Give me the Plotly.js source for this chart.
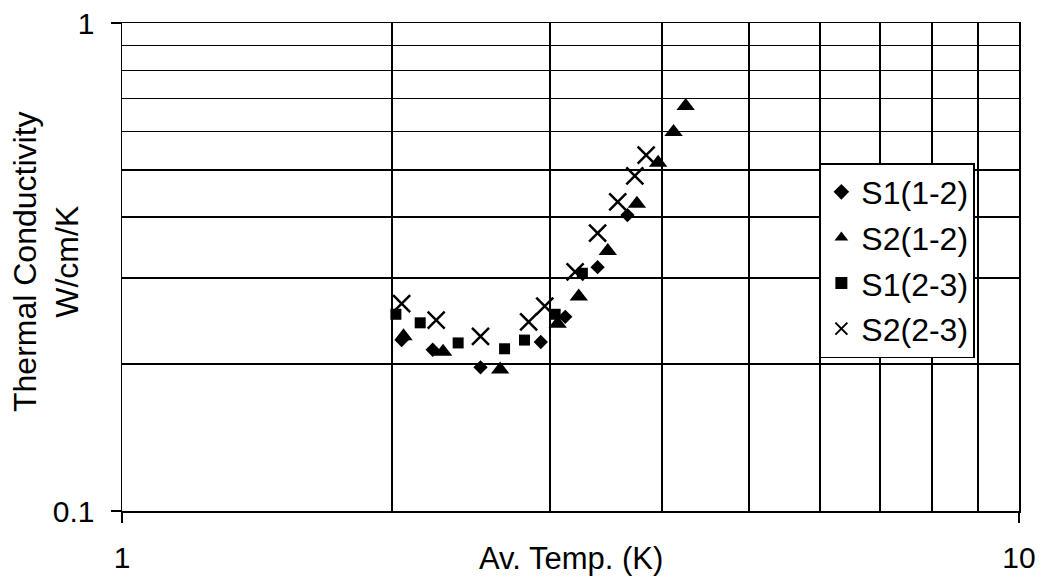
<!DOCTYPE html>
<html>
<head>
<meta charset="utf-8">
<script src="https://cdn.plot.ly/plotly-3.0.1.min.js"></script>
<style>
  html, body { margin: 0; padding: 0; background: #fff; }
  #chart { width: 1043px; height: 583px; }
</style>
</head>
<body>
<div id="chart"></div>
<script>
// Average temperature (K) and thermal conductivity (W/cm/K) per sample pair
const s1_12_temp = [2.05, 2.22, 2.51, 2.93, 3.12, 3.39, 3.66];
const s1_12_cond = [0.224, 0.214, 0.197, 0.222, 0.250, 0.316, 0.404];

const s2_12_temp = [2.06, 2.28, 2.64, 3.06, 3.23, 3.48, 3.75, 3.96, 4.12, 4.25];
const s2_12_cond = [0.228, 0.212, 0.195, 0.242, 0.275, 0.341, 0.426, 0.517, 0.598, 0.676];

const s1_23_temp = [2.02, 2.15, 2.37, 2.67, 2.81, 3.04, 3.26];
const s1_23_cond = [0.253, 0.243, 0.221, 0.215, 0.224, 0.253, 0.307];

const s2_23_temp = [2.05, 2.24, 2.51, 2.84, 2.96, 3.20, 3.39, 3.57, 3.73, 3.84];
const s2_23_cond = [0.266, 0.246, 0.228, 0.244, 0.263, 0.309, 0.371, 0.430, 0.486, 0.536];

const seriesNames = ['S1(1-2)', 'S2(1-2)', 'S1(2-3)', 'S2(2-3)'];
const xTickVals = [1, 10];
const xTickText = ['1', '10'];
const yTickVals = [0.1, 1];
const yTickText = ['0.1', '1'];
const minorX = [2, 3, 4, 5, 6, 7, 8, 9];
const minorY = [0.2, 0.3, 0.4, 0.5, 0.6, 0.7, 0.8, 0.9];

const FONT = 'Liberation Sans, Arial, Helvetica, sans-serif';

function series(x, y, name, symbol, size, group) {
  return {
    type: 'scatter', mode: 'markers', x: x, y: y, name: name,
    legendgroup: group, cliponaxis: false,
    marker: { symbol: symbol, size: size, color: '#000',
              line: { color: '#000', width: 0 } }
  };
}

const data = [
  series(s1_12_temp, s1_12_cond, seriesNames[0], 'diamond', 11, 'a'),
  series(s2_12_temp, s2_12_cond, seriesNames[1], 'triangle-up', 16, 'b'),
  series(s1_23_temp, s1_23_cond, seriesNames[2], 'square', 11, 'c'),
  {
    type: 'scatter', mode: 'markers', x: s2_23_temp, y: s2_23_cond,
    name: seriesNames[3], legendgroup: 'd', cliponaxis: false,
    marker: { symbol: 'x-thin', size: 17, color: '#000',
              line: { color: '#000', width: 2.5 } }
  }
];

const axisCommon = {
  type: 'log',
  tickmode: 'array',
  showgrid: false,
  zeroline: false,
  showline: true,
  mirror: true,
  linecolor: '#000',
  linewidth: 1.5,
  ticks: 'outside',
  ticklen: 10,
  tickwidth: 1.5,
  tickcolor: '#000',
  tickfont: { family: FONT, size: 30, color: '#000' }
};

const layout = {
  width: 1043,
  height: 583,
  margin: { l: 122, r: 24, t: 23, b: 72 },
  paper_bgcolor: '#fff',
  plot_bgcolor: '#fff',
  showlegend: true,
  xaxis: Object.assign({}, axisCommon, {
    range: [0, 1],
    tickvals: xTickVals,
    ticktext: xTickText,
    ticklabelstandoff: 9,
    minor: { tickmode: 'array', tickvals: minorX, showgrid: true,
             gridcolor: '#000', gridwidth: 1.5, ticks: '' }
  }),
  yaxis: Object.assign({}, axisCommon, {
    range: [-1, 0],
    tickvals: yTickVals,
    ticktext: yTickText,
    ticklabelstandoff: 10,
    minor: { tickmode: 'array', tickvals: minorY, showgrid: true,
             gridcolor: '#000', gridwidth: 1.5, ticks: '' }
  }),
  legend: {
    x: 0.778, y: 0.713, xanchor: 'left', yanchor: 'top',
    bgcolor: '#fff', bordercolor: '#000', borderwidth: 1.5,
    font: { family: FONT, size: 32, color: '#000' },
    traceorder: 'grouped', tracegroupgap: 1,
    itemsizing: 'constant'
  },
  annotations: [
    { xref: 'paper', yref: 'paper', x: 0.5, y: 0, yshift: -47,
      xanchor: 'center', yanchor: 'middle', showarrow: false,
      text: 'Av. Temp. (K)', font: { family: FONT, size: 31, color: '#000' } },
    { xref: 'paper', yref: 'paper', x: 0, xshift: -76, y: 0.5, yshift: 5,
      xanchor: 'center', yanchor: 'middle', showarrow: false, textangle: -90,
      text: 'Thermal Conductivity<br>W/cm/K',
      font: { family: FONT, size: 32, color: '#000' } }
  ]
};

Plotly.newPlot('chart', data, layout, { displayModeBar: false, staticPlot: true });
</script>
</body>
</html>
